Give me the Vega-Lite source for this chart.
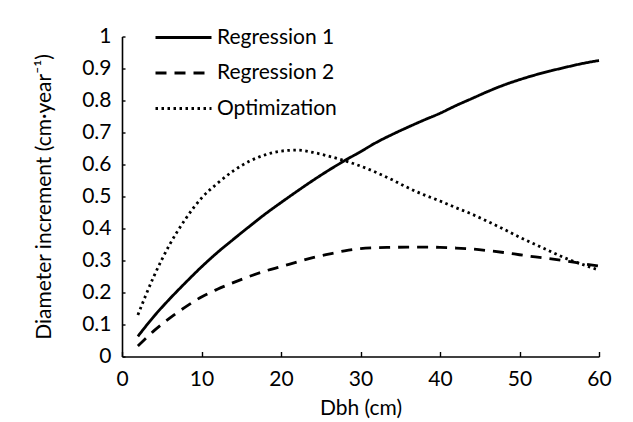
{
  "$schema": "https://vega.github.io/schema/vega-lite/v6.json",
  "width": 477,
  "height": 320,
  "autosize": {"type": "none"},
  "padding": {"left": 122, "top": 36.5, "right": 34, "bottom": 65.5},
  "background": "white",
  "config": {
    "view": {"stroke": null},
    "font": "Lato",
    "axis": {
      "domainColor": "black",
      "domainWidth": 1.6,
      "tickColor": "black",
      "tickWidth": 1.4,
      "labelColor": "black",
      "titleColor": "black",
      "labelFont": "Lato",
      "titleFont": "Lato",
      "labelFontSize": 21,
      "titleFontSize": 21,
      "titleFontWeight": "normal",
      "grid": false
    },
    "legend": {
      "labelFont": "Lato",
      "labelFontSize": 21,
      "labelColor": "black"
    }
  },
  "data": {
    "values": [
      {"series": "Regression 1", "dbh": 2, "inc": 0.063},
      {"series": "Regression 1", "dbh": 4, "inc": 0.125},
      {"series": "Regression 1", "dbh": 6, "inc": 0.18},
      {"series": "Regression 1", "dbh": 8, "inc": 0.231},
      {"series": "Regression 1", "dbh": 10, "inc": 0.28},
      {"series": "Regression 1", "dbh": 12, "inc": 0.325},
      {"series": "Regression 1", "dbh": 14, "inc": 0.366},
      {"series": "Regression 1", "dbh": 16, "inc": 0.406},
      {"series": "Regression 1", "dbh": 18, "inc": 0.445},
      {"series": "Regression 1", "dbh": 20, "inc": 0.481},
      {"series": "Regression 1", "dbh": 22, "inc": 0.516},
      {"series": "Regression 1", "dbh": 24, "inc": 0.55},
      {"series": "Regression 1", "dbh": 26, "inc": 0.582},
      {"series": "Regression 1", "dbh": 28, "inc": 0.612},
      {"series": "Regression 1", "dbh": 30, "inc": 0.64},
      {"series": "Regression 1", "dbh": 32, "inc": 0.669},
      {"series": "Regression 1", "dbh": 34, "inc": 0.694},
      {"series": "Regression 1", "dbh": 36, "inc": 0.717},
      {"series": "Regression 1", "dbh": 38, "inc": 0.739},
      {"series": "Regression 1", "dbh": 40, "inc": 0.76},
      {"series": "Regression 1", "dbh": 42, "inc": 0.784},
      {"series": "Regression 1", "dbh": 44, "inc": 0.806},
      {"series": "Regression 1", "dbh": 46, "inc": 0.828},
      {"series": "Regression 1", "dbh": 48, "inc": 0.848},
      {"series": "Regression 1", "dbh": 50, "inc": 0.865},
      {"series": "Regression 1", "dbh": 52, "inc": 0.88},
      {"series": "Regression 1", "dbh": 54, "inc": 0.893},
      {"series": "Regression 1", "dbh": 56, "inc": 0.905},
      {"series": "Regression 1", "dbh": 58, "inc": 0.916},
      {"series": "Regression 1", "dbh": 60, "inc": 0.925},
      {"series": "Regression 2", "dbh": 2, "inc": 0.033},
      {"series": "Regression 2", "dbh": 4, "inc": 0.08},
      {"series": "Regression 2", "dbh": 6, "inc": 0.12},
      {"series": "Regression 2", "dbh": 8, "inc": 0.155},
      {"series": "Regression 2", "dbh": 10, "inc": 0.186},
      {"series": "Regression 2", "dbh": 12, "inc": 0.21},
      {"series": "Regression 2", "dbh": 14, "inc": 0.231},
      {"series": "Regression 2", "dbh": 16, "inc": 0.25},
      {"series": "Regression 2", "dbh": 18, "inc": 0.267},
      {"series": "Regression 2", "dbh": 20, "inc": 0.281},
      {"series": "Regression 2", "dbh": 22, "inc": 0.295},
      {"series": "Regression 2", "dbh": 24, "inc": 0.309},
      {"series": "Regression 2", "dbh": 26, "inc": 0.32},
      {"series": "Regression 2", "dbh": 28, "inc": 0.33},
      {"series": "Regression 2", "dbh": 30, "inc": 0.337},
      {"series": "Regression 2", "dbh": 32, "inc": 0.34},
      {"series": "Regression 2", "dbh": 34, "inc": 0.341},
      {"series": "Regression 2", "dbh": 36, "inc": 0.342},
      {"series": "Regression 2", "dbh": 38, "inc": 0.342},
      {"series": "Regression 2", "dbh": 40, "inc": 0.341},
      {"series": "Regression 2", "dbh": 42, "inc": 0.339},
      {"series": "Regression 2", "dbh": 44, "inc": 0.336},
      {"series": "Regression 2", "dbh": 46, "inc": 0.331},
      {"series": "Regression 2", "dbh": 48, "inc": 0.325},
      {"series": "Regression 2", "dbh": 50, "inc": 0.318},
      {"series": "Regression 2", "dbh": 52, "inc": 0.311},
      {"series": "Regression 2", "dbh": 54, "inc": 0.305},
      {"series": "Regression 2", "dbh": 56, "inc": 0.298},
      {"series": "Regression 2", "dbh": 58, "inc": 0.29},
      {"series": "Regression 2", "dbh": 60, "inc": 0.283},
      {"series": "Optimization", "dbh": 2, "inc": 0.13},
      {"series": "Optimization", "dbh": 4, "inc": 0.25},
      {"series": "Optimization", "dbh": 6, "inc": 0.35},
      {"series": "Optimization", "dbh": 8, "inc": 0.43},
      {"series": "Optimization", "dbh": 10, "inc": 0.495},
      {"series": "Optimization", "dbh": 12, "inc": 0.541},
      {"series": "Optimization", "dbh": 14, "inc": 0.58},
      {"series": "Optimization", "dbh": 16, "inc": 0.61},
      {"series": "Optimization", "dbh": 18, "inc": 0.63},
      {"series": "Optimization", "dbh": 20, "inc": 0.642},
      {"series": "Optimization", "dbh": 22, "inc": 0.645},
      {"series": "Optimization", "dbh": 24, "inc": 0.638},
      {"series": "Optimization", "dbh": 26, "inc": 0.626},
      {"series": "Optimization", "dbh": 28, "inc": 0.612},
      {"series": "Optimization", "dbh": 30, "inc": 0.595},
      {"series": "Optimization", "dbh": 32, "inc": 0.575},
      {"series": "Optimization", "dbh": 34, "inc": 0.552},
      {"series": "Optimization", "dbh": 36, "inc": 0.527},
      {"series": "Optimization", "dbh": 38, "inc": 0.505},
      {"series": "Optimization", "dbh": 40, "inc": 0.486},
      {"series": "Optimization", "dbh": 42, "inc": 0.465},
      {"series": "Optimization", "dbh": 44, "inc": 0.445},
      {"series": "Optimization", "dbh": 46, "inc": 0.422},
      {"series": "Optimization", "dbh": 48, "inc": 0.398},
      {"series": "Optimization", "dbh": 50, "inc": 0.373},
      {"series": "Optimization", "dbh": 52, "inc": 0.35},
      {"series": "Optimization", "dbh": 54, "inc": 0.327},
      {"series": "Optimization", "dbh": 56, "inc": 0.305},
      {"series": "Optimization", "dbh": 58, "inc": 0.287},
      {"series": "Optimization", "dbh": 60, "inc": 0.27}
    ]
  },
  "mark": {"type": "line", "color": "black", "strokeWidth": 2.8, "interpolate": "monotone", "clip": false},
  "encoding": {
    "x": {
      "field": "dbh",
      "type": "quantitative",
      "scale": {"domain": [0, 60], "nice": false},
      "axis": {
        "title": "Dbh (cm)",
        "values": [0, 10, 20, 30, 40, 50, 60],
        "tickSize": -5,
        "labelPadding": 17,
        "labelFlush": false,
        "titlePadding": 8
      }
    },
    "y": {
      "field": "inc",
      "type": "quantitative",
      "scale": {"domain": [0, 1], "nice": false},
      "axis": {
        "title": "Diameter increment (cm·year⁻¹)",
        "values": [0, 0.1, 0.2, 0.3, 0.4, 0.5, 0.6, 0.7, 0.8, 0.9, 1],
        "format": "~g",
        "tickSize": -3,
        "labelPadding": 14,
        "labelFlush": false,
        "titlePadding": 27
      }
    },
    "strokeDash": {
      "field": "series",
      "type": "nominal",
      "scale": {
        "domain": ["Regression 1", "Regression 2", "Optimization"],
        "range": [[1, 0], [11, 8], [2.5, 3.5]]
      },
      "legend": {
        "title": null,
        "orient": "none",
        "legendX": 32,
        "legendY": -14,
        "padding": 0,
        "symbolType": "stroke",
        "symbolSize": 3136,
        "symbolStrokeWidth": 2.8,
        "symbolStrokeColor": "black",
        "labelOffset": 4,
        "clipHeight": 30,
        "rowPadding": 5.5
      }
    }
  }
}
